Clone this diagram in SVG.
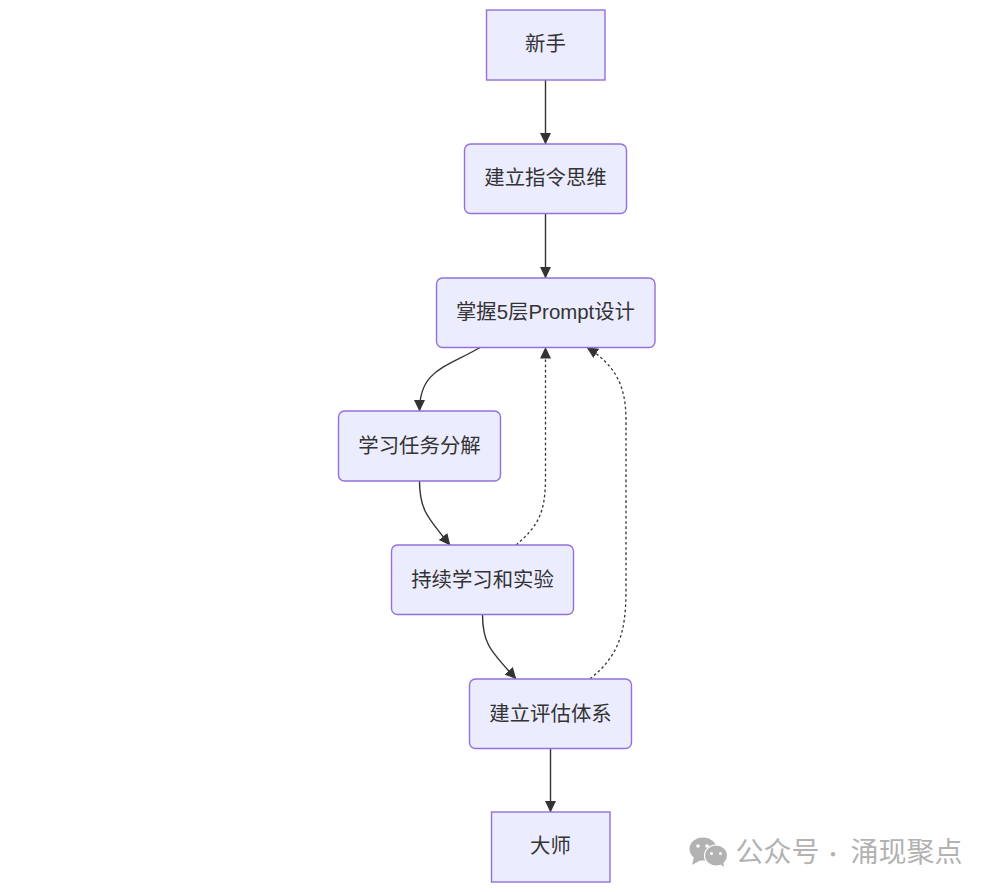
<svg xmlns="http://www.w3.org/2000/svg" width="993" height="892" viewBox="0 0 993 892">
<style>
.n{fill:#ececff;stroke:#9370db;stroke-width:1.4}
.t{font-family:"Liberation Sans","Noto Sans CJK SC",sans-serif;font-size:20.4px;fill:#333;text-anchor:middle}
.e{fill:none;stroke:#333;stroke-width:1.4}
.d{stroke-dasharray:2.6 2.6;stroke-width:1.3}
.w{font-family:"Noto Sans CJK SC","Noto Sans",sans-serif;font-size:28px;fill:#b2b2b2}
</style>
<defs>
<marker id="a" markerUnits="userSpaceOnUse" markerWidth="13" markerHeight="13" refX="11" refY="6" orient="auto"><path d="M0 0.500L11.500 6L0 11.500z" fill="#333"/></marker>
</defs>
<rect width="993" height="892" fill="#fff"/>
<g id="connectors">
<path class="e" marker-end="url(#a)" d="M545.500 80V144"/>
<path class="e" marker-end="url(#a)" d="M545.500 214V278"/>
<path class="e" marker-end="url(#a)" d="M480 347.500C445 368 419.500 370 419.500 411"/>
<path class="e" marker-end="url(#a)" d="M419.500 481C419.500 510 428 518 450 545"/>
<path class="e" marker-end="url(#a)" d="M482.500 614.500C482.500 645 492 652 516 679"/>
<path class="e" marker-end="url(#a)" d="M550.500 748V812"/>
<path class="e d" marker-end="url(#a)" d="M516 545C540 525 545 510 545.500 480V347.500"/>
<path class="e d" marker-end="url(#a)" d="M590 679C620 655 626 630 626 590V420C626 385 615 365 587 347.500"/>
</g>
<g id="n1"><rect class="n" x="486.500" y="10" width="118.500" height="70"/><text class="t" x="545.500" y="51">新手</text></g>
<g id="n2"><rect class="n" x="464.500" y="144" width="162" height="69.500" rx="6"/><text class="t" x="545.500" y="185">建立指令思维</text></g>
<g id="n3"><rect class="n" x="436.500" y="278" width="218.500" height="69.500" rx="6"/><text class="t" x="545.500" y="319">掌握5层Prompt设计</text></g>
<g id="n4"><rect class="n" x="338.500" y="411" width="162" height="70" rx="6"/><text class="t" x="419.500" y="452.500">学习任务分解</text></g>
<g id="n5"><rect class="n" x="391.500" y="545" width="182" height="69.500" rx="6"/><text class="t" x="482.500" y="586.500">持续学习和实验</text></g>
<g id="n6"><rect class="n" x="469.500" y="679" width="162" height="69.500" rx="6"/><text class="t" x="550.500" y="720.500">建立评估体系</text></g>
<g id="n7"><rect class="n" x="491.500" y="812" width="118.500" height="70"/><text class="t" x="550.500" y="853">大师</text></g>
<g id="watermark">
<ellipse cx="703" cy="849" rx="13.500" ry="11.500" fill="#b2b2b2"/>
<path d="M694 857L692 865L701 860z" fill="#b2b2b2"/>
<ellipse cx="716" cy="855.500" rx="11.500" ry="10.500" fill="#b2b2b2" stroke="#fff" stroke-width="1.200"/>
<path d="M720 864L724 867L723 861z" fill="#b2b2b2"/>
<circle cx="698" cy="846" r="1.800" fill="#fff"/><circle cx="707" cy="846" r="1.800" fill="#fff"/>
<circle cx="711.500" cy="853.500" r="1.500" fill="#fff"/><circle cx="720.500" cy="853.500" r="1.500" fill="#fff"/>
<text class="w" x="735.500" y="862">公众号</text>
<text class="w" x="833" y="862" style="font-size:20px;text-anchor:middle">·</text>
<text class="w" x="850.500" y="862">涌现聚点</text>
</g>
</svg>
